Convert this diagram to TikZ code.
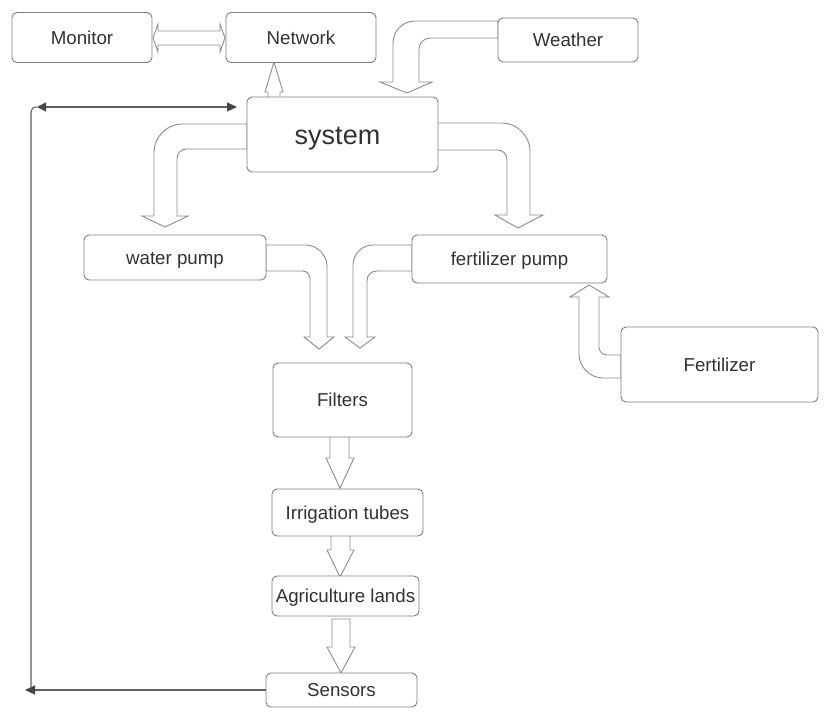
\documentclass[tikz,border=0pt]{standalone}
\usepackage{fontspec}
\setmainfont{Liberation Sans}
\usetikzlibrary{arrows.meta}
\definecolor{boxline}{RGB}{125,125,125}
\definecolor{barrow}{RGB}{140,140,140}
\definecolor{txt}{RGB}{50,50,50}
\definecolor{fbline}{RGB}{95,95,95}
\definecolor{fbhead}{RGB}{70,70,70}
\tikzset{
  box/.style={draw=boxline, line width=0.9pt, rounded corners=5pt, fill=white,
    inner sep=0pt, text=txt, font=\fontsize{18.7}{20}\selectfont,
    text height=13.3pt, text depth=0pt},
  blockarrow/.style={draw=barrow, line width=0.9pt, fill=white, line join=miter},
  fb/.style={draw=fbline, line width=1.1pt},
  fbtip/.style={-{Triangle[length=10pt,width=9pt,color=fbhead,fill=fbhead]}},
  fbtips/.style={{Triangle[length=9pt,width=9pt,color=fbhead,fill=fbhead]}-{Triangle[length=10pt,width=9pt,color=fbhead,fill=fbhead]}},
}
\begin{document}
\begin{tikzpicture}[x=1pt,y=-1pt]
\useasboundingbox (0,0) rectangle (830,719);
\fill[white] (0,0) rectangle (830,719);

% ---- block arrows (drawn first, boxes cover their roots)
% Monitor <-> Network
\path[blockarrow] (153,38) -- (158,24) -- (158,31) -- (220,31) -- (220,24) -- (225,38)
  -- (220,52) -- (220,45) -- (158,45) -- (158,52) -- cycle;
% system -> Network
\path[blockarrow] (268,99) -- (268,92) -- (265,92) -- (274,62) -- (283,92) -- (280,92) -- (280,99) -- cycle;
% Weather -> system
\path[blockarrow] (498,21) -- (415,21) .. controls (403,21) and (393,31) .. (393,43)
  -- (393,82) -- (380,82) -- (407,93) -- (432,82) -- (419,82) -- (419,49)
  .. controls (419,43) and (424,38) .. (430,38) -- (498,38) -- cycle;
% system -> fertilizer pump
\path[blockarrow] (437,123) -- (502,123) .. controls (517,123) and (530,136) .. (530,151)
  -- (530,215) -- (543,215) -- (518,228) -- (495,215) -- (507,215) -- (507,160)
  .. controls (507,154) and (503,150) .. (497,150) -- (437,150) -- cycle;
% system -> water pump
\path[blockarrow] (247,124) -- (182,124) .. controls (167,124) and (154,137) .. (154,152)
  -- (154,216) -- (142,216) -- (165,227) -- (188,216) -- (177,216) -- (177,159)
  .. controls (177,153) and (181,149) .. (187,149) -- (247,149) -- cycle;
% water pump -> Filters
\path[blockarrow] (266,245) -- (306,245) .. controls (317,245) and (327,255) .. (327,266)
  -- (327,337) -- (334,337) -- (319,349) -- (304,337) -- (310,337) -- (310,279)
  .. controls (310,274) and (307,271) .. (302,271) -- (266,271) -- cycle;
% fertilizer pump -> Filters
\path[blockarrow] (412,245) -- (373,245) .. controls (362,245) and (353,254) .. (353,265)
  -- (353,337) -- (345,337) -- (360,348) -- (375,337) -- (367,337) -- (367,281)
  .. controls (367,275) and (371,271) .. (377,271) -- (412,271) -- cycle;
% Fertilizer -> fertilizer pump
\path[blockarrow] (621,378) -- (603,378) .. controls (590,378) and (579,367) .. (579,354)
  -- (579,297) -- (570,297) -- (589,285) -- (609,297) -- (599,297) -- (599,347)
  .. controls (599,351) and (602,355) .. (607,355) -- (621,355) -- cycle;
% Filters -> Irrigation tubes
\path[blockarrow] (330,434) -- (330,458) -- (326,458) -- (340,488) -- (354,458) -- (349,458) -- (349,434) -- cycle;
% Irrigation tubes -> Agriculture lands
\path[blockarrow] (331,534) -- (331,550) -- (327,550) -- (340,577) -- (354,550) -- (350,550) -- (350,534) -- cycle;
% Agriculture lands -> Sensors
\path[blockarrow] (332,619) -- (332,647) -- (327,647) -- (341,673) -- (355,647) -- (350,647) -- (350,619) -- cycle;

% ---- boxes
\node[box, minimum width=140pt, minimum height=50pt] (monitor) at (82,37.5) {Monitor};
\node[box, minimum width=150pt, minimum height=50pt] (network) at (301,37.5) {Network};
\node[box, minimum width=140pt, minimum height=44pt] (weather) at (568,40) {Weather};
\node[box, minimum width=191pt, minimum height=75pt, font=\fontsize{27}{30}\selectfont, text height=19.3pt] (system) at (342.5,134.5) {system\hspace*{10pt}};
\node[box, minimum width=182pt, minimum height=45pt] (wpump) at (175,257.5) {water pump};
\node[box, minimum width=195pt, minimum height=48pt] (fpump) at (509.5,259) {fertilizer pump};
\node[box, minimum width=197pt, minimum height=75pt] (fert) at (719.5,364.5) {Fertilizer};
\node[box, minimum width=139pt, minimum height=74pt] (filters) at (342.5,400) {Filters};
\node[box, minimum width=151pt, minimum height=47pt] (irr) at (347.5,512.5) {Irrigation tubes};
\node[box, minimum width=147pt, minimum height=40pt] (agri) at (345.5,596) {Agriculture lands};
\node[box, minimum width=151pt, minimum height=34pt] (sensors) at (341.5,690) {Sensors};

% ---- feedback lines
\coordinate (fbend) at (25,690);
\coordinate (fbbottom) at (31,688);
\coordinate (fbtop) at (37,107);
\coordinate (fbright) at (237,107);
\draw[fb, fbtip] (sensors.west) -- (fbend);
\draw[fb] (fbbottom) -- (31,112) .. controls (31,109) and (33,107) .. (fbtop);
\draw[fb, fbtips] (fbtop) -- (fbright);
\end{tikzpicture}
\end{document}
